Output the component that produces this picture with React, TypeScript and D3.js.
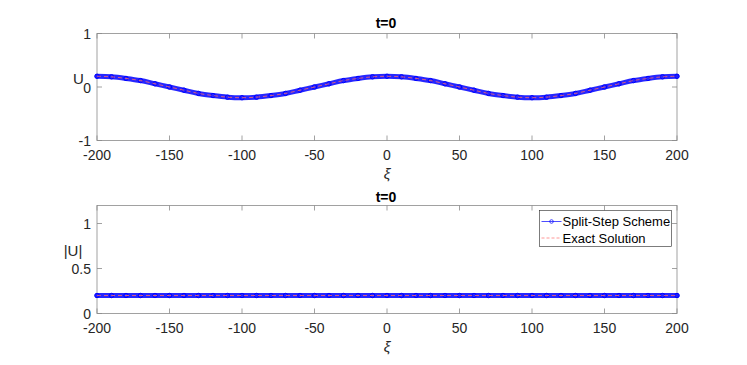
import React, { useEffect, useRef } from "react";
import * as d3 from "d3";

// xi grid (every 10 units) and values
const xiValues = [
  -200, -190, -180, -170, -160, -150, -140, -130, -120, -110, -100, -90, -80, -70, -60, -50, -40, -30, -20, -10,
  0, 10, 20, 30, 40, 50, 60, 70, 80, 90, 100, 110, 120, 130, 140, 150, 160, 170, 180, 190, 200,
];
const uValues = [
  0.2, 0.19, 0.16, 0.12, 0.06, 0.0, -0.06, -0.12, -0.16, -0.19, -0.2, -0.19, -0.16, -0.12, -0.06, 0.0, 0.06, 0.12, 0.16, 0.19,
  0.2, 0.19, 0.16, 0.12, 0.06, 0.0, -0.06, -0.12, -0.16, -0.19, -0.2, -0.19, -0.16, -0.12, -0.06, 0.0, 0.06, 0.12, 0.16, 0.19, 0.2,
];
const absUValues = [
  0.2, 0.2, 0.2, 0.2, 0.2, 0.2, 0.2, 0.2, 0.2, 0.2, 0.2, 0.2, 0.2, 0.2, 0.2, 0.2, 0.2, 0.2, 0.2, 0.2,
  0.2, 0.2, 0.2, 0.2, 0.2, 0.2, 0.2, 0.2, 0.2, 0.2, 0.2, 0.2, 0.2, 0.2, 0.2, 0.2, 0.2, 0.2, 0.2, 0.2, 0.2,
];

const xTicks = [-200, -150, -100, -50, 0, 50, 100, 150, 200];
const topYTicks = [-1, 0, 1];
const bottomYTicks = [0, 0.5, 1];
const legendLabels = ["Split-Step Scheme", "Exact Solution"];

const W = 747;
const H = 365;
const FONT = "'Liberation Sans', Arial, sans-serif";
const AXIS_COLOR = "#262626";
const FRAME_COLOR = "#8a8a8a";
const BLUE = "#0000ff";
const RED = "#ff6a6a";

function App() {
  const ref = useRef<SVGSVGElement>(null);

  useEffect(() => {
    const svg = d3.select(ref.current);
    svg.selectAll("*").remove();

    const left = 97;
    const right = 677;
    const x = d3.scaleLinear().domain([-200, 200]).range([left, right]);

    const drawPanel = (
      top: number,
      bottom: number,
      yDomain: [number, number],
      yTicks: number[],
      values: number[],
      yLabel: string,
      yLabelX: number,
      yLabelY: number,
      titleGap: number,
      showLegend: boolean
    ) => {
      const y = d3.scaleLinear().domain(yDomain).range([bottom, top]);
      const g = svg.append("g");

      g.append("rect")
        .attr("x", left)
        .attr("y", top)
        .attr("width", right - left)
        .attr("height", bottom - top)
        .attr("fill", "#fff")
        .attr("stroke", FRAME_COLOR)
        .attr("stroke-width", 0.8);

      // ticks inside, on all four sides
      xTicks.forEach((t) => {
        g.append("line").attr("x1", x(t)).attr("x2", x(t)).attr("y1", bottom).attr("y2", bottom - 5)
          .attr("stroke", FRAME_COLOR).attr("stroke-width", 0.8);
        g.append("line").attr("x1", x(t)).attr("x2", x(t)).attr("y1", top).attr("y2", top + 5)
          .attr("stroke", FRAME_COLOR).attr("stroke-width", 0.8);
        g.append("text").attr("x", x(t)).attr("y", bottom + 19.5)
          .attr("text-anchor", "middle").attr("font-family", FONT).attr("font-size", 14)
          .attr("fill", AXIS_COLOR).text(String(t));
      });
      yTicks.forEach((t) => {
        g.append("line").attr("x1", left).attr("x2", left + 5).attr("y1", y(t)).attr("y2", y(t))
          .attr("stroke", FRAME_COLOR).attr("stroke-width", 0.8);
        g.append("line").attr("x1", right).attr("x2", right - 5).attr("y1", y(t)).attr("y2", y(t))
          .attr("stroke", FRAME_COLOR).attr("stroke-width", 0.8);
        g.append("text").attr("x", left - 6).attr("y", y(t) + 5.5)
          .attr("text-anchor", "end").attr("font-family", FONT).attr("font-size", 14)
          .attr("fill", AXIS_COLOR).text(String(t));
      });

      const pts: [number, number][] = xiValues.map((d, i) => [d, values[i]]);
      const line = d3.line<[number, number]>()
        .x((d) => x(d[0]))
        .y((d) => y(d[1]))
        .curve(d3.curveCatmullRom);

      // dense circle markers appear as a thick band
      g.append("path").attr("d", line(pts)).attr("fill", "none")
        .attr("stroke", BLUE).attr("stroke-width", 5).attr("stroke-linecap", "round").attr("opacity", 0.85);
      g.selectAll(".mk").data(pts).enter().append("circle")
        .attr("cx", (d) => x(d[0])).attr("cy", (d) => y(d[1])).attr("r", 2.2)
        .attr("fill", "none").attr("stroke", BLUE).attr("stroke-width", 1);
      g.append("path").attr("d", line(pts)).attr("fill", "none")
        .attr("stroke", RED).attr("stroke-width", 0.8).attr("stroke-dasharray", "4,3");

      // title, axis labels
      g.append("text").attr("x", (left + right) / 2 - 1).attr("y", top - titleGap)
        .attr("text-anchor", "middle").attr("font-family", FONT).attr("font-size", 14)
        .attr("font-weight", "bold").attr("fill", "#000").text("t=0");
      g.append("text").attr("x", (left + right) / 2).attr("y", bottom + 38)
        .attr("text-anchor", "middle").attr("font-family", FONT).attr("font-size", 15)
        .attr("font-style", "italic").attr("fill", AXIS_COLOR).text("ξ");
      g.append("text").attr("x", yLabelX).attr("y", yLabelY)
        .attr("text-anchor", "middle").attr("font-family", FONT).attr("font-size", 15)
        .attr("fill", AXIS_COLOR).text(yLabel);

      if (showLegend) {
        const lx = 539.5;
        const ly = 210.5;
        const lg = g.append("g");
        lg.append("rect").attr("x", lx).attr("y", ly).attr("width", 132).attr("height", 36)
          .attr("fill", "#fff").attr("stroke", AXIS_COLOR).attr("stroke-width", 0.6);
        legendLabels.forEach((label, i) => {
          const cy = ly + 11 + i * 16.5;
          lg.append("line").attr("x1", lx + 2).attr("x2", lx + 22).attr("y1", cy).attr("y2", cy)
            .attr("stroke", i === 0 ? BLUE : RED).attr("stroke-width", 0.7)
            .attr("stroke-dasharray", i === 0 ? null : "3,2");
          if (i === 0) {
            lg.append("circle").attr("cx", lx + 12).attr("cy", cy).attr("r", 1.8)
              .attr("fill", "none").attr("stroke", BLUE).attr("stroke-width", 0.7);
          }
          lg.append("text").attr("x", lx + 23).attr("y", cy + 4.5)
            .attr("font-family", FONT).attr("font-size", 13).attr("fill", "#000").text(label);
        });
      }
    };

    drawPanel(33.5, 140.5, [-1, 1], topYTicks, uValues, "U", 78.5, 84, 5.8, false);
    drawPanel(205.5, 313.5, [0, 1.2], bottomYTicks, absUValues, "|U|", 73, 256, 3.4, true);
  }, []);

  return (
    <svg
      ref={ref}
      width={W}
      height={H}
      style={{ position: "absolute", left: 0, top: 0, background: "#fff" }}
    />
  );
}

export default App;
